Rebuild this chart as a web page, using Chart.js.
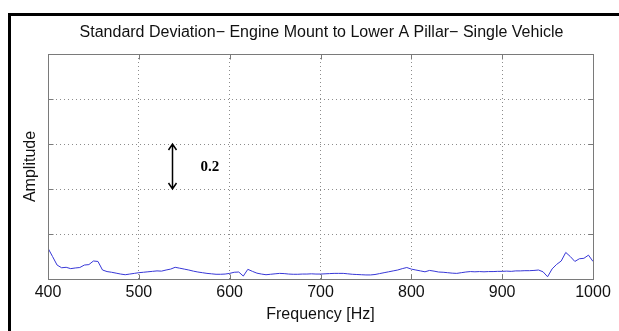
<!DOCTYPE html>
<html>
<head>
<meta charset="utf-8">
<script src="https://cdn.jsdelivr.net/npm/chart.js@4"></script>
<style>
  html, body { margin: 0; padding: 0; background: #fff; }
  #wrap { position: relative; width: 619px; height: 331px; overflow: hidden; background: #fff; }
  #frame { position: absolute; left: 8px; top: 13px; right: -5px; bottom: -5px;
           border-left: 3px solid #000; border-top: 3px solid #000; pointer-events: none; }
  canvas { position: absolute; left: 0; top: 0; }
</style>
</head>
<body>
<div id="wrap">
  <canvas id="sd-chart" width="619" height="331"></canvas>
  <div id="frame"></div>
</div>
<script>
// frequency axis (Hz)
const freqs = [
  400, 405, 410, 415, 420, 425, 430, 435, 440, 445, 450, 455, 460, 465, 470, 475, 480, 485, 490, 495,
  500, 505, 510, 515, 520, 525, 530, 535, 540, 545, 550, 555, 560, 565, 570, 575, 580, 585, 590, 595,
  600, 605, 610, 615, 620, 625, 630, 635, 640, 645, 650, 655, 660, 665, 670, 675, 680, 685, 690, 695,
  700, 705, 710, 715, 720, 725, 730, 735, 740, 745, 750, 755, 760, 765, 770, 775, 780, 785, 790, 795,
  800, 805, 810, 815, 820, 825, 830, 835, 840, 845, 850, 855, 860, 865, 870, 875, 880, 885, 890, 895,
  900, 905, 910, 915, 920, 925, 930, 935, 940, 945, 950, 955, 960, 965, 970, 975, 980, 985, 990, 995,
  1000
];

// standard deviation amplitude
const stdDev = [
  0.137, 0.100, 0.062, 0.050, 0.052, 0.046, 0.049, 0.051, 0.062, 0.064, 0.080, 0.078, 0.040, 0.033, 0.030, 0.026, 0.022, 0.019, 0.022, 0.025,
  0.028, 0.030, 0.032, 0.034, 0.036, 0.035, 0.040, 0.044, 0.052, 0.048, 0.044, 0.040, 0.035, 0.031, 0.028, 0.025, 0.023, 0.021, 0.021, 0.022,
  0.025, 0.030, 0.031, 0.013, 0.043, 0.034, 0.026, 0.022, 0.019, 0.021, 0.023, 0.025, 0.024, 0.022, 0.021, 0.021, 0.022, 0.022, 0.023, 0.022,
  0.022, 0.023, 0.024, 0.025, 0.025, 0.025, 0.023, 0.021, 0.020, 0.019, 0.018, 0.018, 0.020, 0.024, 0.028, 0.032, 0.036, 0.040, 0.046, 0.051,
  0.044, 0.040, 0.036, 0.032, 0.038, 0.035, 0.031, 0.030, 0.028, 0.026, 0.025, 0.028, 0.031, 0.033, 0.032, 0.033, 0.032, 0.033, 0.033, 0.034,
  0.034, 0.035, 0.034, 0.036, 0.036, 0.037, 0.037, 0.038, 0.040, 0.032, 0.010, 0.045, 0.065, 0.080, 0.118, 0.100, 0.078, 0.090, 0.092, 0.106,
  0.078
];

const xTicks = [400, 500, 600, 700, 800, 900, 1000];
const yTicks = [0, 0.2, 0.4, 0.6, 0.8, 1.0];

const chartTitle = "Standard Deviation\u2212 Engine Mount to Lower A Pillar\u2212 Single Vehicle";

// scale bar: x position, from/to amplitude, label
const scaleBar = [537, 0.4, 0.6];
const scaleLabel = "0.2";

const FONT = "'Liberation Sans', Arial, Helvetica, sans-serif";

// matlab-ish box with inward ticks, title over the axes, scale arrow
const boxPlugin = {
  id: "box",
  afterDatasetsDraw(chart) {
    const { ctx, chartArea: a, scales } = chart;
    const l = Math.round(a.left) + 0.5, r = Math.round(a.right) + 0.5;
    const t = Math.round(a.top) + 0.5, b = Math.round(a.bottom) + 0.5;
    ctx.save();
    ctx.strokeStyle = "#7a7a7a";
    ctx.lineWidth = 1;
    ctx.strokeRect(l, t, r - l, b - t);
    ctx.beginPath();
    xTicks.forEach(v => {
      const x = Math.round(scales.x.getPixelForValue(v)) + 0.5;
      ctx.moveTo(x, b); ctx.lineTo(x, b - 5);
      ctx.moveTo(x, t); ctx.lineTo(x, t + 5);
    });
    yTicks.forEach(v => {
      const y = Math.round(scales.y.getPixelForValue(v)) + 0.5;
      ctx.moveTo(l, y); ctx.lineTo(l + 5, y);
      ctx.moveTo(r, y); ctx.lineTo(r - 5, y);
    });
    ctx.stroke();

    // title centred on the axes
    ctx.fillStyle = "#111";
    ctx.font = "16px " + FONT;
    ctx.textAlign = "center";
    ctx.textBaseline = "middle";
    ctx.fillText(chartTitle, (a.left + a.right) / 2 + 1, 33);

    // double arrow for the 0.2 scale
    const ax = Math.round(scales.x.getPixelForValue(scaleBar[0])) + 0.5;
    const y1 = scales.y.getPixelForValue(scaleBar[1]);
    const y2 = scales.y.getPixelForValue(scaleBar[2]);
    ctx.strokeStyle = "#000";
    ctx.lineWidth = 1.5;
    ctx.beginPath();
    ctx.moveTo(ax, y2); ctx.lineTo(ax, y1);
    ctx.moveTo(ax - 4, y2 + 6); ctx.lineTo(ax, y2); ctx.lineTo(ax + 4, y2 + 6);
    ctx.moveTo(ax - 4, y1 - 6); ctx.lineTo(ax, y1); ctx.lineTo(ax + 4, y1 - 6);
    ctx.stroke();
    ctx.fillStyle = "#000";
    ctx.font = "bold 15px 'Liberation Serif', 'Times New Roman', serif";
    ctx.textAlign = "left";
    ctx.fillText(scaleLabel, ax + 28, (y1 + y2) / 2 + 1);
    ctx.restore();
  }
};

const edge = (ctx, lo, hi) =>
  (ctx.tick && (ctx.tick.value === lo || ctx.tick.value === hi)) ? "rgba(0,0,0,0)" : "#8c8c8c";

new Chart(document.getElementById("sd-chart"), {
  type: "line",
  data: {
    datasets: [{
      data: freqs.map((f, i) => ({ x: f, y: stdDev[i] })),
      borderColor: "rgb(55,55,215)",
      borderWidth: 1,
      pointRadius: 0,
      tension: 0,
      fill: false
    }]
  },
  options: {
    responsive: false,
    animation: false,
    layout: { padding: { left: 0, right: 26, top: 54, bottom: 0 } },
    plugins: {
      legend: { display: false },
      tooltip: { enabled: false },
      title: { display: false }
    },
    scales: {
      x: {
        type: "linear",
        min: 400,
        max: 1000,
        afterBuildTicks: s => { s.ticks = xTicks.map(v => ({ value: v })); },
        afterFit: s => { s.height = 52; },
        ticks: {
          color: "#111",
          font: { family: FONT, size: 16 },
          padding: 4,
          maxRotation: 0,
          callback: v => String(v)
        },
        grid: { drawTicks: false, color: c => edge(c, 400, 1000), lineWidth: 1 },
        border: { display: false, dash: [1, 3] },
        title: {
          display: true,
          text: "Frequency [Hz]",
          color: "#111",
          font: { family: FONT, size: 16 },
          padding: { top: 0, bottom: 7 }
        }
      },
      y: {
        min: 0,
        max: 1,
        afterBuildTicks: s => { s.ticks = yTicks.map(v => ({ value: v })); },
        afterFit: s => { s.width = 48; },
        ticks: { display: false },
        grid: { drawTicks: false, color: c => edge(c, 0, 1), lineWidth: 1 },
        border: { display: false, dash: [1, 3] },
        title: {
          display: true,
          text: "Amplitude",
          color: "#111",
          font: { family: FONT, size: 16 },
          padding: { top: 21, bottom: 0 }
        }
      }
    }
  },
  plugins: [boxPlugin]
});
</script>
</body>
</html>
